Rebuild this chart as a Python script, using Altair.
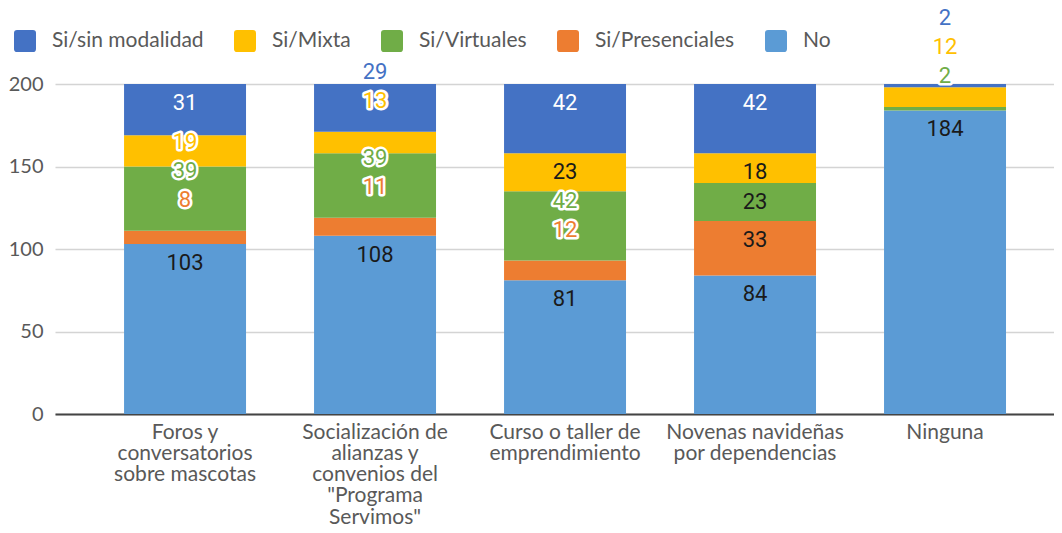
import altair as alt
import pandas as pd

# ---------------- data ----------------
categories = [
    "Foros y\nconversatorios\nsobre mascotas",
    "Socialización de\nalianzas y\nconvenios del\n\"Programa\nServimos\"",
    "Curso o taller de\nemprendimiento",
    "Novenas navideñas\npor dependencias",
    "Ninguna",
]
series = ["Si/sin modalidad", "Si/Mixta", "Si/Virtuales", "Si/Presenciales", "No"]
colors = ["#4472C4", "#FFC000", "#70AD47", "#ED7D31", "#5B9BD5"]

no_vals = [103, 108, 81, 84, 184]
presenciales = [8, 11, 12, 33, 0]
virtuales = [39, 39, 42, 23, 2]
mixta = [19, 13, 23, 18, 12]
sin_modalidad = [31, 29, 42, 42, 2]

y_ticks = [0, 50, 100, 150, 200]

# ---------------- table ----------------
stack_bottom_up = [
    ("No", no_vals),
    ("Si/Presenciales", presenciales),
    ("Si/Virtuales", virtuales),
    ("Si/Mixta", mixta),
    ("Si/sin modalidad", sin_modalidad),
]
color_of = dict(zip(series, colors))

PLOT_W, PLOT_H = 999, 330
YMAX = y_ticks[-1]
u = YMAX / PLOT_H  # data units per pixel

rows, lab_rows = [], []
for ci, cat in enumerate(categories):
    prev = -1e9
    cum = 0
    for si, (name, vals) in enumerate(stack_bottom_up):
        v = vals[ci]
        rows.append({"cat": cat, "series": name, "value": v, "order": si})
        if v == 0:
            continue
        end = cum + v
        small = v / u < 25
        target = end + 33 * u if small else end - 17 * u
        pos = max(target, prev + 29 * u)
        halo = bool(small or (pos - target) > 5 * u)
        if halo:
            tcol = color_of[name]
        else:
            tcol = "#ffffff" if name == "Si/sin modalidad" else "#1a1a1a"
        lab_rows.append({"cat": cat, "series": name, "value": v,
                         "label_y": pos, "halo": halo, "tcol": tcol})
        prev = pos
        cum = end

df = pd.DataFrame(rows)
lab = pd.DataFrame(lab_rows)

# ---------------- chart ----------------
TXT = "#595959"

x_enc = alt.X(
    "cat:N",
    sort=categories,
    scale=alt.Scale(domain=categories, paddingInner=0.358, paddingOuter=0.308, align=0.59),
    axis=alt.Axis(
        title=None, labelAngle=0, labelExpr="split(datum.label, '\\n')",
        labelFont="Lato", labelFontSize=21, labelColor=TXT,
        labelLineHeight=21.3, labelPadding=7, labelBaseline="top",
        ticks=False, tickSize=0, domainColor="#444444", domainWidth=2,
        grid=False, labelLimit=400,
    ),
)

y_scale = alt.Scale(domain=[0, YMAX], nice=False)
y_axis = alt.Axis(
    title=None, values=y_ticks, domain=False, ticks=False,
    labelPadding=12, gridColor="#d4d4d4", gridWidth=1.3,
    labelFont="Lato", labelFontSize=20, labelColor=TXT,
)

rounded = ("M-0.72,-1H0.72Q1,-1,1,-0.72V0.72Q1,1,0.72,1H-0.72Q-1,1,-1,0.72"
           "V-0.72Q-1,-1,-0.72,-1Z")

bars = alt.Chart(df).mark_bar().encode(
    x=x_enc,
    y=alt.Y("value:Q", stack=True, scale=y_scale, axis=y_axis),
    color=alt.Color(
        "series:N",
        scale=alt.Scale(domain=series, range=colors),
        legend=alt.Legend(
            title=None, orient="none", legendX=-41, legendY=-54,
            direction="horizontal", symbolType=rounded, symbolSize=484,
            symbolStrokeWidth=0, symbolOpacity=1,
            labelFont="Lato", labelFontSize=21, labelColor=TXT,
            labelOffset=16, columnPadding=30, padding=0,
        ),
    ),
    order=alt.Order("order:Q", sort="ascending"),
)

halo_layer = alt.Chart(lab).transform_filter("datum.halo").mark_text(
    font="Roboto", fontSize=22, baseline="middle", align="center", dy=2,
    fill="white", stroke="white", strokeWidth=5, strokeJoin="round",
).encode(
    x=x_enc,
    y=alt.Y("label_y:Q", scale=y_scale, axis=y_axis),
    text=alt.Text("value:Q"),
)

text_layer = alt.Chart(lab).mark_text(
    font="Roboto", fontSize=22, baseline="middle", align="center", dy=2,
).encode(
    x=x_enc,
    y=alt.Y("label_y:Q", scale=y_scale, axis=y_axis),
    text=alt.Text("value:Q"),
    color=alt.Color("tcol:N", scale=None, legend=None),
)

chart = alt.layer(bars, halo_layer, text_layer).properties(
    width=PLOT_W,
    height=PLOT_H,
    autosize=alt.AutoSizeParams(type="none"),
    padding={"left": 47, "top": 76, "right": 0, "bottom": 111},
).configure_view(stroke=None)

chart.save("out.html", embed_options={"renderer": "svg", "actions": False})
